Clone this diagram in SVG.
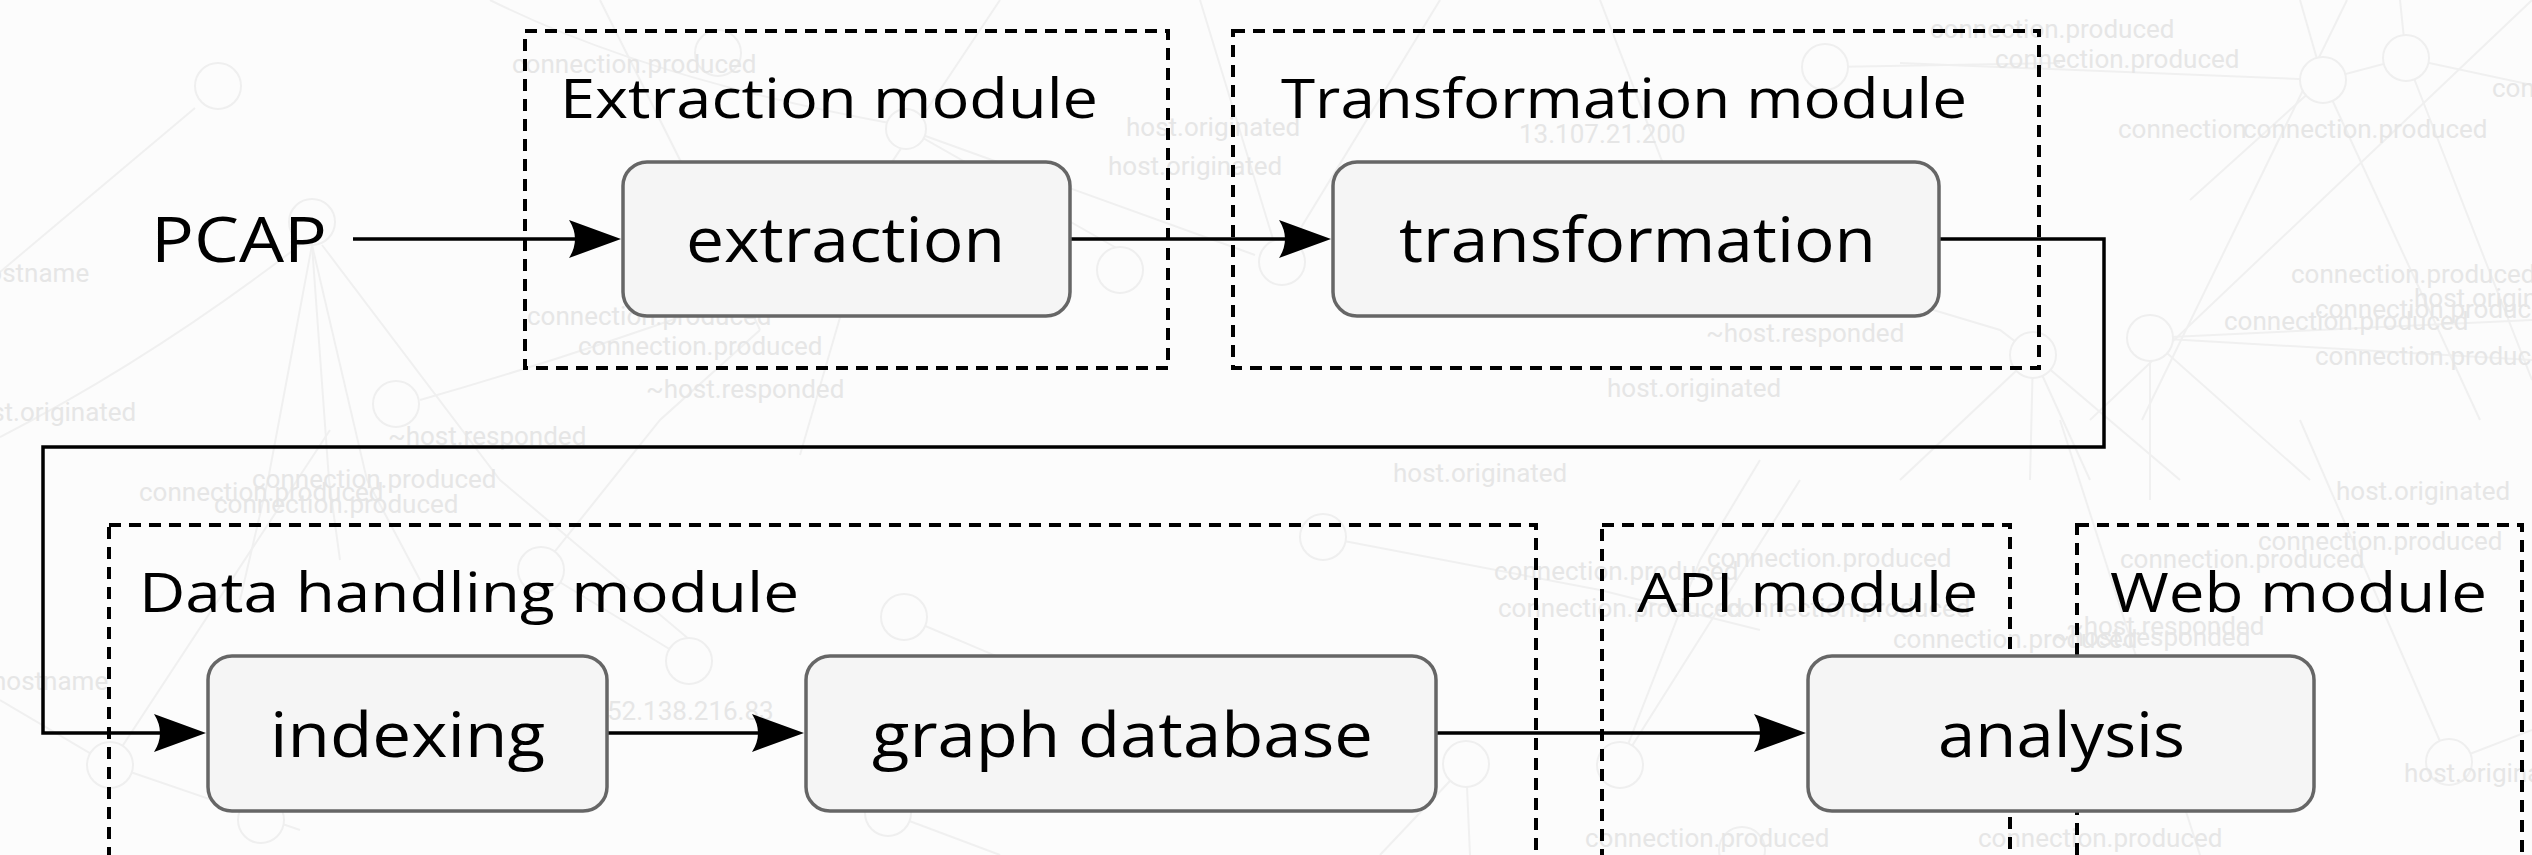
<svg xmlns="http://www.w3.org/2000/svg" width="2532" height="855" viewBox="0 0 2532 855">
<style>
.bgt{font-family:Roboto,"Liberation Sans",sans-serif;font-size:26px;fill:#e6e6e6}
.bgl{stroke:#f0f0f0;stroke-width:2;fill:none}
.bgc{stroke:#efefef;stroke-width:2;fill:#fcfcfc}
.mod{fill:none;stroke:#000;stroke-width:4;stroke-dasharray:12 8}
.modt{font-family:"Open Sans","Liberation Sans",sans-serif;font-size:55px;fill:#000}
.node{fill:#f5f5f5;stroke:#666;stroke-width:3.5}
.nodet{font-family:"Open Sans","Liberation Sans",sans-serif;font-size:62px;fill:#000}
.conn{fill:none;stroke:#000;stroke-width:3.5}
</style>
<defs>
<marker id="arr" markerUnits="userSpaceOnUse" markerWidth="60" markerHeight="44" viewBox="-2 -22 60 44" refX="12" refY="0" orient="auto">
<path d="M52,0 L0,-19 Q12,0 0,19 Z" fill="#000"/>
</marker>
</defs>
<rect x="0" y="0" width="2532" height="855" fill="#fcfcfc"/>
<g id="background-graph">
<path class="bgl" d="M195,108 L0,272"/>
<path class="bgl" d="M300,245 Q150,360 0,437"/>
<path class="bgl" d="M312,245 L268,480 L240,600"/>
<path class="bgl" d="M312,245 L329,480 L340,560"/>
<path class="bgl" d="M312,245 L367,480 L420,580"/>
<path class="bgl" d="M322,245 L500,480 L690,640"/>
<path class="bgl" d="M700,310 Q560,360 420,400"/>
<path class="bgl" d="M490,0 Q650,80 900,125 L1120,250"/>
<path class="bgl" d="M906,129 L1255,255"/>
<path class="bgl" d="M600,0 L700,200 L760,330"/>
<path class="bgl" d="M1000,0 L880,180 L800,455"/>
<path class="bgl" d="M540,570 L660,420 L760,330"/>
<path class="bgl" d="M110,765 L0,700"/>
<path class="bgl" d="M110,765 L330,430"/>
<path class="bgl" d="M110,765 L300,830"/>
<path class="bgl" d="M689,661 L540,570"/>
<path class="bgl" d="M904,617 L1100,700"/>
<path class="bgl" d="M888,813 L1000,855"/>
<path class="bgl" d="M1323,537 L1600,590 L1760,630"/>
<path class="bgl" d="M1466,764 L1470,855"/>
<path class="bgl" d="M1466,764 L1380,855"/>
<path class="bgl" d="M1620,765 L1700,560 L1760,460"/>
<path class="bgl" d="M1900,63 L2323,80 L2406,58 L2532,85"/>
<path class="bgl" d="M1830,67 L2060,63"/>
<path class="bgl" d="M2347,0 L2142,420"/>
<path class="bgl" d="M2532,0 L2090,420"/>
<path class="bgl" d="M2406,58 L2400,0"/>
<path class="bgl" d="M2323,80 L2300,0"/>
<path class="bgl" d="M2323,80 L2190,200"/>
<path class="bgl" d="M2323,80 L2480,420"/>
<path class="bgl" d="M2406,58 L2532,380"/>
<path class="bgl" d="M2150,338 L2532,320"/>
<path class="bgl" d="M2150,338 L2532,360"/>
<path class="bgl" d="M2150,338 L2310,480"/>
<path class="bgl" d="M2150,338 L2150,500"/>
<path class="bgl" d="M2033,355 L2000,330 L1900,300"/>
<path class="bgl" d="M2033,355 L1900,480"/>
<path class="bgl" d="M2033,355 L2030,480"/>
<path class="bgl" d="M2033,355 L2090,480"/>
<path class="bgl" d="M2033,355 L2180,480"/>
<path class="bgl" d="M2060,420 L2200,855"/>
<path class="bgl" d="M2300,420 L2449,762"/>
<path class="bgl" d="M2449,762 L2532,730"/>
<path class="bgl" d="M1800,480 L1620,765"/>
<path class="bgl" d="M1280,262 L1200,0"/>
<path class="bgl" d="M1280,262 L1440,0"/>
<path class="bgl" d="M1600,0 L1700,260"/>
<circle class="bgc" cx="218" cy="86" r="23"/>
<circle class="bgc" cx="312" cy="222" r="23"/>
<circle class="bgc" cx="396" cy="404" r="23"/>
<circle class="bgc" cx="718" cy="53" r="23"/>
<circle class="bgc" cx="906" cy="129" r="20"/>
<circle class="bgc" cx="1120" cy="270" r="23"/>
<circle class="bgc" cx="1282" cy="262" r="23"/>
<circle class="bgc" cx="1825" cy="67" r="23"/>
<circle class="bgc" cx="2323" cy="80" r="23"/>
<circle class="bgc" cx="2406" cy="58" r="23"/>
<circle class="bgc" cx="2150" cy="338" r="23"/>
<circle class="bgc" cx="2033" cy="355" r="23"/>
<circle class="bgc" cx="541" cy="570" r="23"/>
<circle class="bgc" cx="689" cy="661" r="23"/>
<circle class="bgc" cx="904" cy="617" r="23"/>
<circle class="bgc" cx="110" cy="765" r="23"/>
<circle class="bgc" cx="261" cy="820" r="23"/>
<circle class="bgc" cx="888" cy="813" r="23"/>
<circle class="bgc" cx="1323" cy="537" r="23"/>
<circle class="bgc" cx="1466" cy="764" r="23"/>
<circle class="bgc" cx="1620" cy="765" r="23"/>
<circle class="bgc" cx="2449" cy="762" r="23"/>
<circle class="bgc" cx="1742" cy="850" r="23"/>
<text class="bgt" x="512" y="73">connection.produced</text>
<text class="bgt" x="1126" y="136">host.originated</text>
<text class="bgt" x="1108" y="175">host.originated</text>
<text class="bgt" x="1519" y="143">13.107.21.200</text>
<text class="bgt" x="1930" y="38">connection.produced</text>
<text class="bgt" x="1995" y="68">connection.produced</text>
<text class="bgt" x="2118" y="138">connection</text>
<text class="bgt" x="2243" y="138">connection.produced</text>
<text class="bgt" x="2492" y="97">con</text>
<text class="bgt" x="2291" y="283">connection.produced</text>
<text class="bgt" x="2414" y="307">host.originated</text>
<text class="bgt" x="2315" y="318">connection.produced</text>
<text class="bgt" x="2224" y="330">connection.produced</text>
<text class="bgt" x="2315" y="365">connection.produced</text>
<text class="bgt" x="1706" y="342">~host.responded</text>
<text class="bgt" x="1607" y="397">host.originated</text>
<text class="bgt" x="527" y="325">connection.produced</text>
<text class="bgt" x="578" y="355">connection.produced</text>
<text class="bgt" x="646" y="398">~host.responded</text>
<text class="bgt" x="-27" y="282">hostname</text>
<text class="bgt" x="-38" y="421">host.originated</text>
<text class="bgt" x="388" y="445">~host.responded</text>
<text class="bgt" x="252" y="488">connection.produced</text>
<text class="bgt" x="139" y="501">connection.produced</text>
<text class="bgt" x="214" y="513">connection.produced</text>
<text class="bgt" x="-8" y="690">hostname</text>
<text class="bgt" x="607" y="720">52.138.216.83</text>
<text class="bgt" x="1393" y="482">host.originated</text>
<text class="bgt" x="2336" y="500">host.originated</text>
<text class="bgt" x="1494" y="580">connection.produced</text>
<text class="bgt" x="1707" y="567">connection.produced</text>
<text class="bgt" x="1498" y="617">connection.produced</text>
<text class="bgt" x="1726" y="617">connection.produced</text>
<text class="bgt" x="1893" y="648">connection.produced</text>
<text class="bgt" x="2066" y="635">~host.responded</text>
<text class="bgt" x="2052" y="646">~host.responded</text>
<text class="bgt" x="2120" y="568">connection.produced</text>
<text class="bgt" x="2258" y="550">connection.produced</text>
<text class="bgt" x="1585" y="847">connection.produced</text>
<text class="bgt" x="1978" y="847">connection.produced</text>
<text class="bgt" x="2404" y="782">host.originated</text>
</g>
<g id="extraction-module">
<rect class="mod" x="525" y="31" width="643" height="337"/>
<text class="modt" x="560" y="118" textLength="538" lengthAdjust="spacingAndGlyphs">Extraction module</text>
</g>
<g id="transformation-module">
<rect class="mod" x="1233" y="31" width="806" height="337"/>
<text class="modt" x="1281" y="118" textLength="686" lengthAdjust="spacingAndGlyphs">Transformation module</text>
</g>
<g id="data-handling-module">
<rect class="mod" x="109" y="525" width="1427" height="400"/>
<text class="modt" x="139" y="612" textLength="660" lengthAdjust="spacingAndGlyphs">Data handling module</text>
</g>
<g id="api-module">
<rect class="mod" x="1602" y="525" width="408" height="400"/>
<text class="modt" x="1637" y="612" textLength="341" lengthAdjust="spacingAndGlyphs">API module</text>
</g>
<g id="web-module">
<rect class="mod" x="2077" y="525" width="445" height="400"/>
<text class="modt" x="2110" y="612" textLength="377" lengthAdjust="spacingAndGlyphs">Web module</text>
</g>
<g id="connectors">
<path class="conn" d="M353,239 H581" marker-end="url(#arr)"/>
<path class="conn" d="M1070,239 H1291" marker-end="url(#arr)"/>
<path class="conn" d="M1939,239 H2104 V447 H43 V733 H166" marker-end="url(#arr)"/>
<path class="conn" d="M607,733 H764" marker-end="url(#arr)"/>
<path class="conn" d="M1436,733 H1766" marker-end="url(#arr)"/>
</g>
<g id="pcap">
<text class="nodet" x="151" y="262" textLength="176" lengthAdjust="spacingAndGlyphs">PCAP</text>
</g>
<g id="extraction">
<rect class="node" x="623" y="162" width="447" height="154" rx="24"/>
<text class="nodet" x="686" y="262" textLength="319" lengthAdjust="spacingAndGlyphs">extraction</text>
</g>
<g id="transformation">
<rect class="node" x="1333" y="162" width="606" height="154" rx="24"/>
<text class="nodet" x="1399" y="262" textLength="477" lengthAdjust="spacingAndGlyphs">transformation</text>
</g>
<g id="indexing">
<rect class="node" x="208" y="656" width="399" height="155" rx="24"/>
<text class="nodet" x="270" y="757" textLength="275" lengthAdjust="spacingAndGlyphs">indexing</text>
</g>
<g id="graph-database">
<rect class="node" x="806" y="656" width="630" height="155" rx="24"/>
<text class="nodet" x="872" y="757" textLength="501" lengthAdjust="spacingAndGlyphs">graph database</text>
</g>
<g id="analysis">
<rect class="node" x="1808" y="656" width="506" height="155" rx="24"/>
<text class="nodet" x="1938" y="757" textLength="247" lengthAdjust="spacingAndGlyphs">analysis</text>
</g>
</svg>
